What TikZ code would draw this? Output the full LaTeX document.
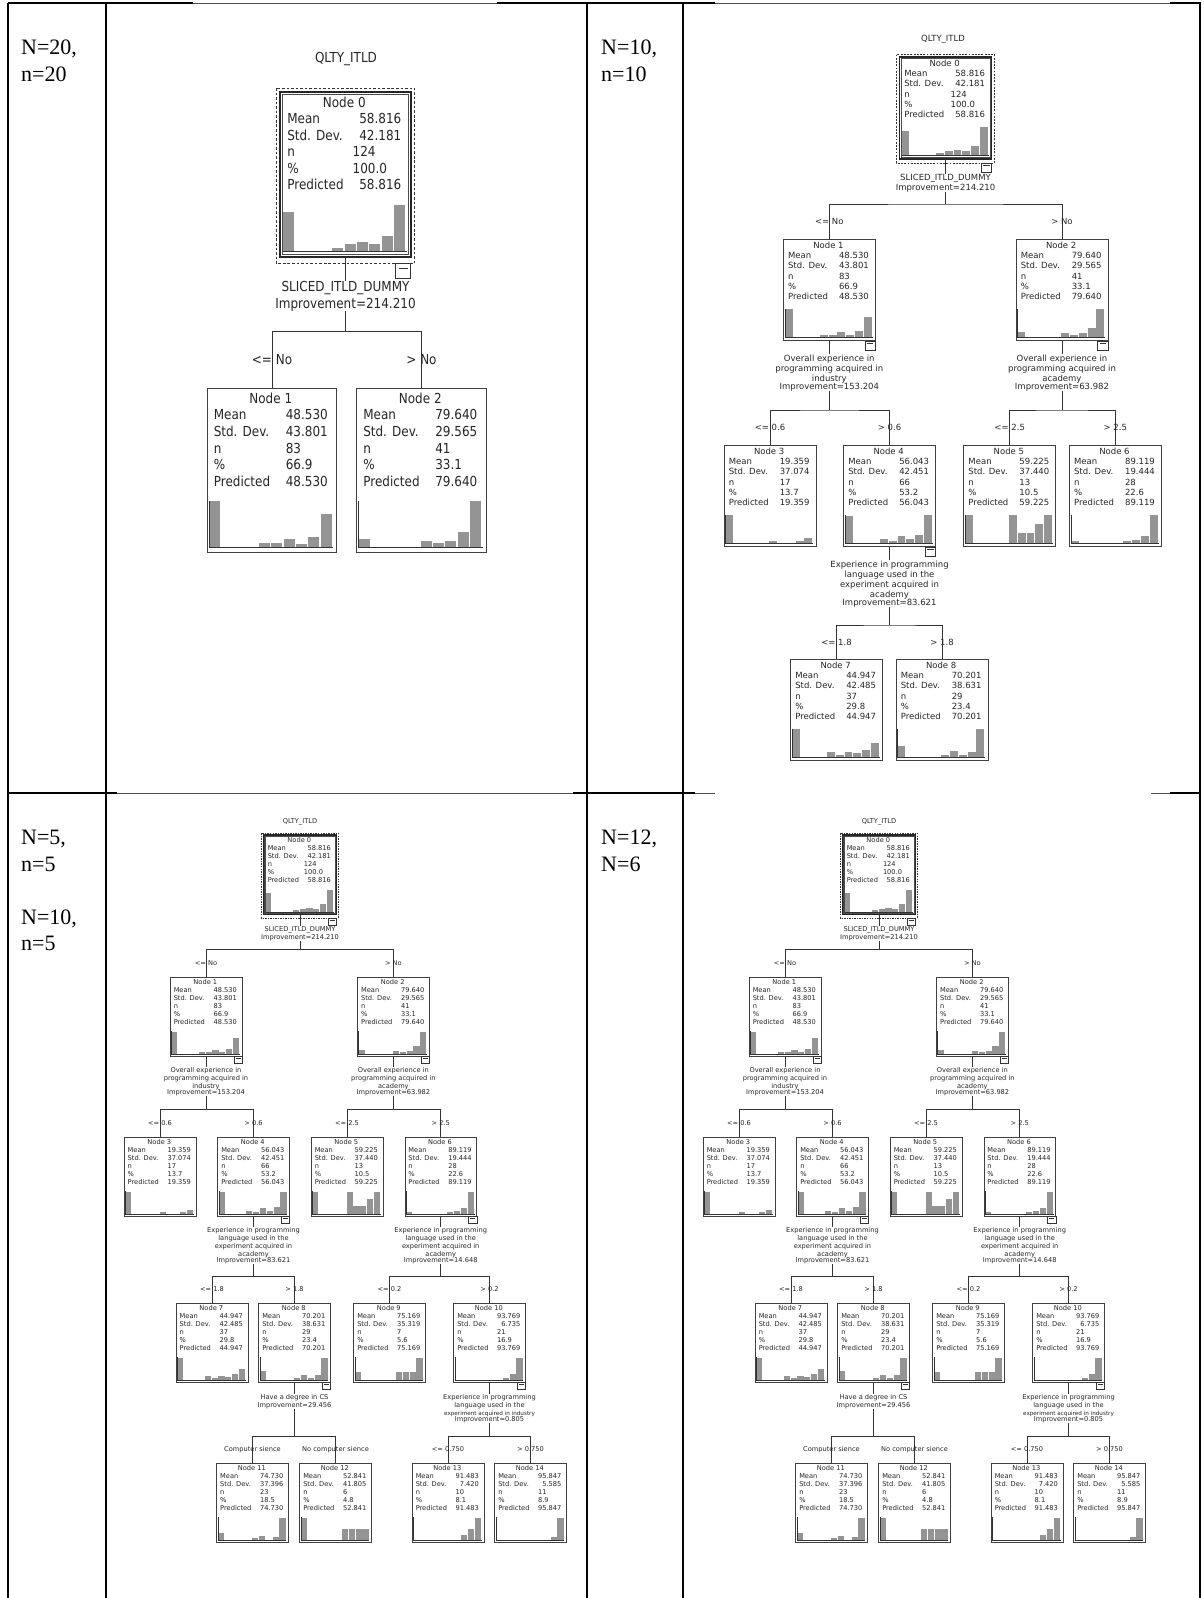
\documentclass[tikz,border=0pt]{standalone}
\usepackage{fontspec}
\setmainfont{Liberation Serif}
\newfontfamily\spssfont{DejaVu Sans}
\usetikzlibrary{positioning,calc}

% statistics rows of a tree node
\newcommand{\rowr}[2]{\makebox[6em][l]{#1}\makebox[3.5em][r]{#2}}
\newcommand{\rowl}[2]{\makebox[6em][l]{#1}\makebox[3.5em][l]{#2}}
\newcommand{\stats}[6]{Node #1\\\rowr{Mean}{#2}\\\rowr{Std. Dev.}{#3}\\\rowl{n}{#4}\\\rowl{\%}{#5}\\\rowr{Predicted}{#6}}

% size of one tree (font size in px)
\newcommand{\setfs}[1]{\def\fs{#1}%
  \pgfmathsetmacro\fsl{1.2*#1}\pgfmathsetmacro\fss{0.85*#1}%
  \pgfmathsetmacro\gapz{1.75*#1}\pgfmathsetmacro\gapn{1.6*#1}%
  \pgfmathsetmacro\dsa{0.22*#1}\pgfmathsetmacro\dsb{0.16*#1}}

% tree node: name, position, number, mean, sd, n, pct, predicted, bars
\newcommand{\tnode}[9]{%
  \node[tbox] (#1) at (#2) {};
  \node[tstats] (#1t) at ($(#1.north)+({-0.1*\fs},{0.34*\fs})$) {\stats{#3}{#4}{#5}{#6}{#7}{#8}};
  \foreach \bin/\hgt in {#9}
    \fill[tbar] ($(#1.south west)+({(0.22+1.03*\bin)*\fs},{-0.45*\fs})$) rectangle ++({0.92*\fs},{-3.33*\hgt*\fs});
  \draw[taxis] ($(#1.south west)+({0.22*\fs},{-3.8*\fs})$) |- ($(#1.south west)+({10.55*\fs},{-0.4*\fs})$);
}
% selected root node
\newcommand{\tsel}[1]{%
  \draw[tsel] ($(#1.north west)+({-0.33*\fs},{-0.28*\fs})$) rectangle ($(#1.south east)+({0.33*\fs},{0.5*\fs})$);
  \draw[tthick] (#1.north west) rectangle (#1.south east);
  \draw[tinner] ($(#1.north west)+({0.2*\fs},{0.2*\fs})$) rectangle ($(#1.south east)+({-0.2*\fs},{-0.2*\fs})$);
}
% collapse box
\newcommand{\texp}[2]{%
  \draw[texpd] ($(#1.south east)+({-1.25*\fs},{#2*\fs})$) rectangle ++({1.25*\fs},{1.05*\fs});
  \draw[texpd] ($(#1.south east)+({-1.0*\fs},{(#2+0.3)*\fs})$) -- ++({0.75*\fs},0);
}

% the tree with nodes 0 to 14
\newcommand{\fulltree}[1]{%
  \setfs{6.65}
  \node[ttitle] (#1q) at (300,822) {QLTY\_ITLD};
  \tnode{#1n0}{300,835}{0}{58.816}{42.181}{\hspace*{-.55em}124}{\hspace*{-.55em}100.0}{58.816}{0/0.85,4/0.06,5/0.14,6/0.18,7/0.14,8/0.33,9/1}
  \tsel{#1n0}
  \texp{#1n0}{0.5}
  \node[tsplit, below=\gapz pt of #1n0] (#1s0) {SLICED\_ITLD\_DUMMY\\Improvement=214.210};
  \coordinate (#1b0) at (300,949);
  % level 1
  \tnode{#1n1}{206,977}{1}{48.530}{43.801}{83}{66.9}{48.530}{0/1,4/0.08,5/0.08,6/0.17,7/0.07,8/0.22,9/0.71}
  \tnode{#1n2}{393.4,977}{2}{79.640}{29.565}{41}{33.1}{79.640}{0/0.17,5/0.13,6/0.08,7/0.13,8/0.33,9/1}
  \texp{#1n1}{0}
  \texp{#1n2}{0}
  \node[tsplit, below=\gapn pt of #1n1] (#1s1) {Overall experience in\\programming acquired in\\industry\\[-0.3em]Improvement=153.204};
  \node[tsplit, below=\gapn pt of #1n2] (#1s2) {Overall experience in\\programming acquired in\\academy\\[-0.3em]Improvement=63.982};
  \coordinate (#1b1) at (206,1109);
  \coordinate (#1b2) at (393.4,1109);
  % level 2
  \tnode{#1n3}{160,1137}{3}{19.359}{37.074}{17}{13.7}{19.359}{0/1,5/0.08,8/0.06,9/0.16}
  \tnode{#1n4}{253.5,1137}{4}{56.043}{42.451}{66}{53.2}{56.043}{0/0.97,4/0.14,5/0.08,6/0.26,7/0.14,8/0.3,9/1}
  \tnode{#1n5}{347,1137}{5}{59.225}{37.440}{13}{10.5}{59.225}{0/1,5/1,6/0.34,7/0.34,8/0.67,9/1}
  \tnode{#1n6}{440.7,1137}{6}{89.119}{19.444}{28}{22.6}{89.119}{0/0.06,6/0.06,7/0.11,8/0.26,9/1}
  \texp{#1n4}{0}
  \texp{#1n6}{0}
  \node[tsplit, below=\gapn pt of #1n4] (#1s4) {Experience in programming\\language used in the\\experiment acquired in\\academy\\[-0.3em]Improvement=83.621};
  \node[tsplit, below=\gapn pt of #1n6] (#1s6) {Experience in programming\\language used in the\\experiment acquired in\\academy\\[-0.3em]Improvement=14.648};
  \coordinate (#1b4) at (253.5,1276);
  \coordinate (#1b6) at (440.7,1276);
  % level 3
  \tnode{#1n7}{212,1303}{7}{44.947}{42.485}{37}{29.8}{44.947}{0/1,4/0.18,5/0.08,6/0.18,7/0.14,8/0.25,9/0.5}
  \tnode{#1n8}{294.5,1303}{8}{70.201}{38.631}{29}{23.4}{70.201}{0/0.39,5/0.08,6/0.2,7/0.08,8/0.19,9/1}
  \tnode{#1n9}{389.5,1303}{9}{75.169}{35.319}{7}{5.6}{75.169}{0/0.33,6/0.33,7/0.33,8/0.33,9/1}
  \tnode{#1n10}{489.5,1303}{10}{93.769}{6.735}{21}{16.9}{93.769}{7/0.06,8/0.25,9/1}
  \texp{#1n8}{0}
  \texp{#1n10}{0}
  \node[tsplit, below=\gapz pt of #1n8] (#1s8) {Have a degree in CS\\Improvement=29.456};
  \node[tsplit, below=\gapz pt of #1n10] (#1s10) {Experience in programming\\language used in the\\{\fontsize{\fss}{\fsl}\selectfont experiment acquired in industry}\\[-0.3em]Improvement=0.805};
  \coordinate (#1b8) at (294.5,1436);
  \coordinate (#1b10) at (489.5,1436);
  % level 4
  \tnode{#1n11}{252.5,1463}{11}{74.730}{37.396}{23}{18.5}{74.730}{0/0.3,5/0.07,6/0.15,8/0.14,9/1}
  \tnode{#1n12}{335.5,1463}{12}{52.841}{41.805}{6}{4.8}{52.841}{0/1,6/0.5,7/0.5,8/0.5,9/0.5}
  \tnode{#1n13}{448,1463}{13}{91.483}{7.420}{10}{8.1}{91.483}{7/0.19,8/0.5,9/1}
  \tnode{#1n14}{530.5,1463}{14}{95.847}{5.585}{11}{8.9}{95.847}{8/0.1,9/1}
  % connectors
  \draw[tline] (#1n0.south) -- (#1s0.north);
  \draw[tline] (#1s0.south) -- (#1b0);
  \draw[tline] (#1n1.north) |- (#1b0) -| (#1n2.north);
  \draw[tline] (#1n1.south) -- (#1s1.north);
  \draw[tline] (#1s1.south) -- (#1b1);
  \draw[tline] (#1n3.north) |- (#1b1) -| (#1n4.north);
  \draw[tline] (#1n2.south) -- (#1s2.north);
  \draw[tline] (#1s2.south) -- (#1b2);
  \draw[tline] (#1n5.north) |- (#1b2) -| (#1n6.north);
  \draw[tline] (#1n4.south) -- (#1s4.north);
  \draw[tline] (#1s4.south) -- (#1b4);
  \draw[tline] (#1n7.north) |- (#1b4) -| (#1n8.north);
  \draw[tline] (#1n6.south) -- (#1s6.north);
  \draw[tline] (#1s6.south) -- (#1b6);
  \draw[tline] (#1n9.north) |- (#1b6) -| (#1n10.north);
  \draw[tline] (#1n8.south) -- (#1s8.north);
  \draw[tline] (#1s8.south) -- (#1b8);
  \draw[tline] (#1n11.north) |- (#1b8) -| (#1n12.north);
  \draw[tline] (#1n10.south) -- (#1s10.north);
  \draw[tline] (#1s10.south) -- (#1b10);
  \draw[tline] (#1n13.north) |- (#1b10) -| (#1n14.north);
  % branch labels
  \node[tlab] (#1l1) at ($(#1n1.north)!0.5!(#1n1.north |- #1b0)$) {<= No};
  \node[tlab] (#1l2) at ($(#1n2.north)!0.5!(#1n2.north |- #1b0)$) {> No};
  \node[tlab] (#1l3) at ($(#1n3.north)!0.5!(#1n3.north |- #1b1)$) {<= 0.6};
  \node[tlab] (#1l4) at ($(#1n4.north)!0.5!(#1n4.north |- #1b1)$) {> 0.6};
  \node[tlab] (#1l5) at ($(#1n5.north)!0.5!(#1n5.north |- #1b2)$) {<= 2.5};
  \node[tlab] (#1l6) at ($(#1n6.north)!0.5!(#1n6.north |- #1b2)$) {> 2.5};
  \node[tlab] (#1l7) at ($(#1n7.north)!0.5!(#1n7.north |- #1b4)$) {<= 1.8};
  \node[tlab] (#1l8) at ($(#1n8.north)!0.5!(#1n8.north |- #1b4)$) {> 1.8};
  \node[tlab] (#1l9) at ($(#1n9.north)!0.5!(#1n9.north |- #1b6)$) {<= 0.2};
  \node[tlab] (#1l10) at ($(#1n10.north)!0.5!(#1n10.north |- #1b6)$) {> 0.2};
  \node[tlab] (#1l11) at ($(#1n11.north)!0.5!(#1n11.north |- #1b8)$) {Computer sience};
  \node[tlab] (#1l12) at ($(#1n12.north)!0.5!(#1n12.north |- #1b8)$) {No computer sience};
  \node[tlab] (#1l13) at ($(#1n13.north)!0.5!(#1n13.north |- #1b10)$) {<= 0.750};
  \node[tlab] (#1l14) at ($(#1n14.north)!0.5!(#1n14.north |- #1b10)$) {> 0.750};
}

\begin{document}
\begin{tikzpicture}[x=1pt, y=-1pt,
    rule/.style={line width=2.6pt},
    rulethin/.style={line width=1pt, black!70},
    cell/.style={anchor=north west, inner sep=0, align=left, font=\fontsize{22}{26.5}\selectfont},
    tbox/.style={draw=black!75, fill=white, line width={0.08*\fs}, minimum width={10.8*\fs}, minimum height={11.9*\fs}, inner sep=0, anchor=north},
    tstats/.style={anchor=north, inner sep=0, align=center, text=black!85, font=\spssfont\fontsize{\fs}{\fsl}\selectfont},
    tsplit/.style={anchor=north, inner sep=0, align=center, text=black!85, font=\spssfont\fontsize{\fs}{\fsl}\selectfont},
    tlab/.style={inner sep=0, text=black!85, font=\spssfont\fontsize{\fs}{\fsl}\selectfont},
    ttitle/.style={inner sep=0, text=black!85, font=\spssfont\fontsize{\fs}{\fsl}\selectfont},
    tbar/.style={fill=black!42},
    taxis/.style={draw=black!80, line width={0.08*\fs}},
    tline/.style={draw=black!80, line width={0.08*\fs}},
    tsel/.style={draw=black!80, line width={0.07*\fs}, dash pattern=on \dsa pt off \dsb pt},
    tthick/.style={draw=black!85, line width={0.16*\fs}},
    tinner/.style={draw=black!70, line width={0.05*\fs}},
    texpd/.style={draw=black!80, line width={0.06*\fs}}
]
\useasboundingbox (0,0) rectangle (1203,1598);

% table rules
\draw[rule] (8,3) -- (193,3);
\draw[rulethin] (193,3) -- (497,3);
\draw[rule] (497,3) -- (715,3);
\draw[rulethin] (715,3) -- (1170,3);
\draw[rule] (1170,3) -- (1201,3);
\draw[rule] (8,793) -- (117,793);
\draw[rulethin] (117,793) -- (573,793);
\draw[rule] (573,793) -- (695,793);
\draw[rulethin] (695,793) -- (715,793);
\draw[rulethin] (1151,793) -- (1170,793);
\draw[rule] (1170,793) -- (1201,793);
\foreach \xr in {8,106,587,683,1200}
  \draw[rule] (\xr,3) -- (\xr,1598);

% row labels
\node[cell] (c20) at (21,40) {N=20,\\n=20};
\node[cell] (c10) at (601,40) {N=10,\\n=10};
\node[cell] (c5) at (21,830) {N=5,\\n=5\\[26.5pt]N=10,\\n=5};
\node[cell] (c12) at (601,830) {N=12,\\N=6};

% tree N=20 (picture stretched in height)
\begin{scope}[yscale=1.148, transform shape]
\setfs{12}
\node[ttitle] (tlq) at (346,51) {QLTY\_ITLD};
\tnode{tl0}{345.5,80}{0}{58.816}{42.181}{\hspace*{-.55em}124}{\hspace*{-.55em}100.0}{58.816}{0/0.85,4/0.06,5/0.14,6/0.18,7/0.14,8/0.33,9/1}
\tsel{tl0}
\texp{tl0}{0.5}
\node[tsplit, below=\gapz pt of tl0] (tls0) {SLICED\_ITLD\_DUMMY\\Improvement=214.210};
\coordinate (tlb0) at (345.5,289);
\tnode{tl1}{272,338}{1}{48.530}{43.801}{83}{66.9}{48.530}{0/1,4/0.08,5/0.08,6/0.17,7/0.07,8/0.22,9/0.71}
\tnode{tl2}{421.5,338}{2}{79.640}{29.565}{41}{33.1}{79.640}{0/0.17,5/0.13,6/0.08,7/0.13,8/0.33,9/1}
\draw[tline] (tl0.south) -- (tls0.north);
\draw[tline] (tls0.south) -- (tlb0);
\draw[tline] (tl1.north) |- (tlb0) -| (tl2.north);
\node[tlab] (tll1) at ($(tl1.north)!0.5!(tl1.north |- tlb0)$) {<= No};
\node[tlab] (tll2) at ($(tl2.north)!0.5!(tl2.north |- tlb0)$) {> No};
\end{scope}

% tree N=10
\setfs{8.5}
\node[ttitle] (trq) at (943,39) {QLTY\_ITLD};
\tnode{tr0}{945.5,57}{0}{58.816}{42.181}{\hspace*{-.55em}124}{\hspace*{-.55em}100.0}{58.816}{0/0.85,4/0.06,5/0.14,6/0.18,7/0.14,8/0.33,9/1}
\tsel{tr0}
\texp{tr0}{0.5}
\node[tsplit, below=\gapz pt of tr0] (trs0) {SLICED\_ITLD\_DUMMY\\Improvement=214.210};
\coordinate (trb0) at (945.5,204);
\tnode{tr1}{829.3,239}{1}{48.530}{43.801}{83}{66.9}{48.530}{0/1,4/0.08,5/0.08,6/0.17,7/0.07,8/0.22,9/0.71}
\tnode{tr2}{1062,239}{2}{79.640}{29.565}{41}{33.1}{79.640}{0/0.17,5/0.13,6/0.08,7/0.13,8/0.33,9/1}
\texp{tr1}{0}
\texp{tr2}{0}
\node[tsplit, below=\gapn pt of tr1] (trs1) {Overall experience in\\programming acquired in\\industry\\[-0.3em]Improvement=153.204};
\node[tsplit, below=\gapn pt of tr2] (trs2) {Overall experience in\\programming acquired in\\academy\\[-0.3em]Improvement=63.982};
\coordinate (trb1) at (829.3,410);
\coordinate (trb2) at (1062,410);
\tnode{tr3}{770,445}{3}{19.359}{37.074}{17}{13.7}{19.359}{0/1,5/0.08,8/0.06,9/0.16}
\tnode{tr4}{889.5,445}{4}{56.043}{42.451}{66}{53.2}{56.043}{0/0.97,4/0.14,5/0.08,6/0.26,7/0.14,8/0.3,9/1}
\tnode{tr5}{1009.7,445}{5}{59.225}{37.440}{13}{10.5}{59.225}{0/1,5/1,6/0.34,7/0.34,8/0.67,9/1}
\tnode{tr6}{1115.3,445}{6}{89.119}{19.444}{28}{22.6}{89.119}{0/0.06,6/0.06,7/0.11,8/0.26,9/1}
\texp{tr4}{0}
\node[tsplit, below=\gapn pt of tr4] (trs4) {Experience in programming\\language used in the\\experiment acquired in\\academy\\[-0.3em]Improvement=83.621};
\coordinate (trb4) at (889.5,625);
\tnode{tr7}{836.5,659}{7}{44.947}{42.485}{37}{29.8}{44.947}{0/1,4/0.18,5/0.08,6/0.18,7/0.14,8/0.25,9/0.5}
\tnode{tr8}{942,659}{8}{70.201}{38.631}{29}{23.4}{70.201}{0/0.39,5/0.08,6/0.2,7/0.08,8/0.19,9/1}
\draw[tline] (tr0.south) -- (trs0.north);
\draw[tline] (trs0.south) -- (trb0);
\draw[tline] (tr1.north) |- (trb0) -| (tr2.north);
\draw[tline] (tr1.south) -- (trs1.north);
\draw[tline] (trs1.south) -- (trb1);
\draw[tline] (tr3.north) |- (trb1) -| (tr4.north);
\draw[tline] (tr2.south) -- (trs2.north);
\draw[tline] (trs2.south) -- (trb2);
\draw[tline] (tr5.north) |- (trb2) -| (tr6.north);
\draw[tline] (tr4.south) -- (trs4.north);
\draw[tline] (trs4.south) -- (trb4);
\draw[tline] (tr7.north) |- (trb4) -| (tr8.north);
\node[tlab] (trl1) at ($(tr1.north)!0.5!(tr1.north |- trb0)$) {<= No};
\node[tlab] (trl2) at ($(tr2.north)!0.5!(tr2.north |- trb0)$) {> No};
\node[tlab] (trl3) at ($(tr3.north)!0.5!(tr3.north |- trb1)$) {<= 0.6};
\node[tlab] (trl4) at ($(tr4.north)!0.5!(tr4.north |- trb1)$) {> 0.6};
\node[tlab] (trl5) at ($(tr5.north)!0.5!(tr5.north |- trb2)$) {<= 2.5};
\node[tlab] (trl6) at ($(tr6.north)!0.5!(tr6.north |- trb2)$) {> 2.5};
\node[tlab] (trl7) at ($(tr7.north)!0.5!(tr7.north |- trb4)$) {<= 1.8};
\node[tlab] (trl8) at ($(tr8.north)!0.5!(tr8.north |- trb4)$) {> 1.8};

% trees N=5 and N=12
\fulltree{bl}
\begin{scope}[shift={(579,0)}]
\fulltree{br}
\end{scope}

\end{tikzpicture}
\end{document}
